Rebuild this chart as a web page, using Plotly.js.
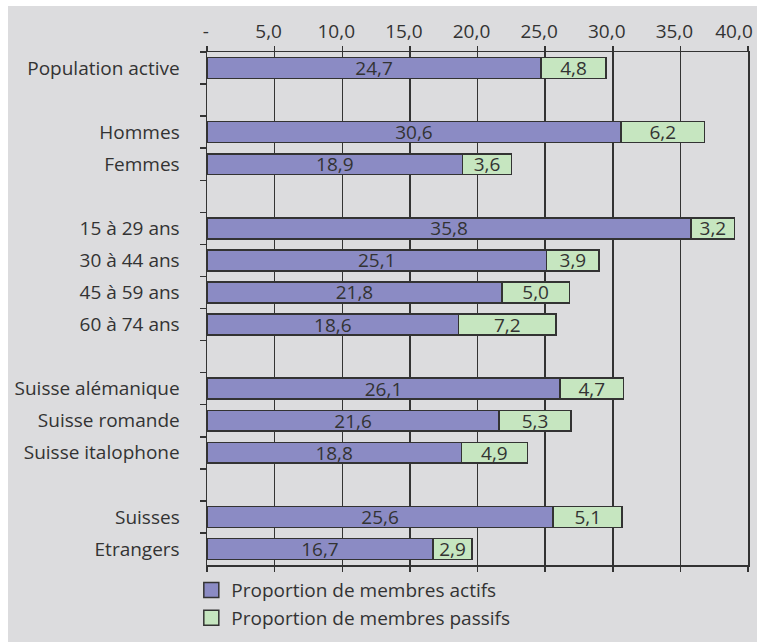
<!DOCTYPE html>
<html>
<head>
<meta charset="utf-8">
<script src="https://cdn.plot.ly/plotly-3.0.1.min.js"></script>
<style>
  html, body { margin: 0; padding: 0; background: #ffffff; }
  #chart { width: 757px; height: 642px; }
</style>
</head>
<body>
<div id="chart"></div>
<script>
// Row labels, top to bottom; blank rows separate the groups
const categories = [
  "Population active", " ",
  "Hommes", "Femmes", "  ",
  "15 à 29 ans", "30 à 44 ans", "45 à 59 ans", "60 à 74 ans", "   ",
  "Suisse alémanique", "Suisse romande", "Suisse italophone", "    ",
  "Suisses", "Etrangers"
];

// Share of active members (%)
const actifs = [
  24.7, null,
  30.6, 18.9, null,
  35.8, 25.1, 21.8, 18.6, null,
  26.1, 21.6, 18.8, null,
  25.6, 16.7
];

// Share of passive members (%)
const passifs = [
  4.8, null,
  6.2, 3.6, null,
  3.2, 3.9, 5.0, 7.2, null,
  4.7, 5.3, 4.9, null,
  5.1, 2.9
];

const tickValues = [0, 5, 10, 15, 20, 25, 30, 35, 40];
const tickLabels = ["\u00a0\u00a0-", "5,0", "10,0", "15,0", "20,0", "25,0", "30,0", "35,0", ""];
// the 40 label sits on its own overlay axis so it can be pulled inside the page
const lastTickValue = [40];
const lastTickLabel = ["40,0"];

const seriesNames = ["Proportion de membres actifs", "Proportion de membres passifs"];
const seriesColors = ["#8b8bc4", "#c6e6c0"];

const FONT = "Open Sans, Noto Sans, sans-serif";
const SIZE = 19;
const INK = "#333333";

function barTrace(values, name, color) {
  return {
    type: "bar",
    orientation: "h",
    y: categories,
    x: values,
    name: name,
    showlegend: false,
    marker: { color: color, line: { color: INK, width: 1.5 } },
    texttemplate: "%{x:.1f}",
    textposition: "inside",
    insidetextanchor: "middle",
    textangle: 0,
    constraintext: "none",
    insidetextfont: { family: FONT, size: SIZE, color: INK },
    hoverinfo: "skip"
  };
}

// legend keys: square swatches with an outline
function legendKey(name, color, i) {
  return {
    type: "scatter",
    mode: "markers",
    x: [null],
    y: [null],
    name: name,
    legendgroup: "g" + i,
    marker: { symbol: "square", size: 15, color: color, line: { color: INK, width: 1.5 } },
    hoverinfo: "skip"
  };
}

// empty trace that brings the overlay axis to life
const overlayAxisTrace = {
  type: "scatter",
  mode: "markers",
  x: [null],
  y: [null],
  xaxis: "x2",
  yaxis: "y",
  showlegend: false,
  hoverinfo: "skip"
};

const data = [
  barTrace(actifs, seriesNames[0], seriesColors[0]),
  barTrace(passifs, seriesNames[1], seriesColors[1]),
  legendKey(seriesNames[0], seriesColors[0], 0),
  legendKey(seriesNames[1], seriesColors[1], 1),
  overlayAxisTrace
];

const tickFont = { family: FONT, size: SIZE, color: INK };

const layout = {
  width: 757,
  height: 642,
  margin: { l: 207, r: 9, t: 52, b: 77, autoexpand: false },
  separators: ", ",
  paper_bgcolor: "#ffffff",
  plot_bgcolor: "rgba(0,0,0,0)",
  barmode: "stack",
  bargap: 0.35,
  font: { family: FONT, size: SIZE, color: INK },
  showlegend: true,
  legend: {
    x: -0.029, xanchor: "left",
    y: -0.012, yanchor: "top",
    traceorder: "grouped",
    tracegroupgap: 0,
    bgcolor: "rgba(0,0,0,0)",
    font: { family: FONT, size: SIZE, color: INK },
    itemwidth: 30
  },
  xaxis: {
    side: "top",
    range: [0, 40],
    tickmode: "array",
    tickvals: tickValues,
    ticktext: tickLabels,
    ticks: "outside",
    ticklen: 5,
    tickwidth: 1.5,
    tickcolor: INK,
    ticklabelstandoff: 0,
    ticklabelshift: -6,
    showline: true,
    linecolor: INK,
    linewidth: 1.5,
    mirror: "ticks",
    showgrid: true,
    gridcolor: INK,
    gridwidth: 1.5,
    zeroline: false,
    tickfont: tickFont,
    automargin: false,
    fixedrange: true
  },
  xaxis2: {
    overlaying: "x",
    side: "top",
    range: [0, 40],
    tickmode: "array",
    tickvals: lastTickValue,
    ticktext: lastTickLabel,
    ticks: "outside",
    ticklen: 5,
    tickcolor: "rgba(0,0,0,0)",
    ticklabelstandoff: 0,
    ticklabelshift: -14,
    ticklabeloverflow: "allow",
    showline: false,
    showgrid: false,
    zeroline: false,
    tickfont: tickFont,
    automargin: false,
    fixedrange: true
  },
  yaxis: {
    type: "category",
    categoryorder: "array",
    categoryarray: categories,
    autorange: "reversed",
    tickson: "boundaries",
    ticks: "outside",
    ticklen: 6,
    tickwidth: 1.5,
    tickcolor: INK,
    ticklabelstandoff: 22,
    showline: true,
    linecolor: INK,
    linewidth: 1.5,
    mirror: true,
    showgrid: false,
    zeroline: false,
    tickfont: tickFont,
    automargin: false,
    fixedrange: true
  },
  shapes: [{
    type: "rect",
    xref: "paper", yref: "paper",
    x0: -0.3678, x1: 1.02,
    y0: -0.16, y1: 1.0897,
    fillcolor: "#dcdcde",
    line: { width: 0 },
    layer: "below"
  }]
};

Plotly.newPlot("chart", data, layout, { displayModeBar: false, staticPlot: true });
</script>
</body>
</html>
